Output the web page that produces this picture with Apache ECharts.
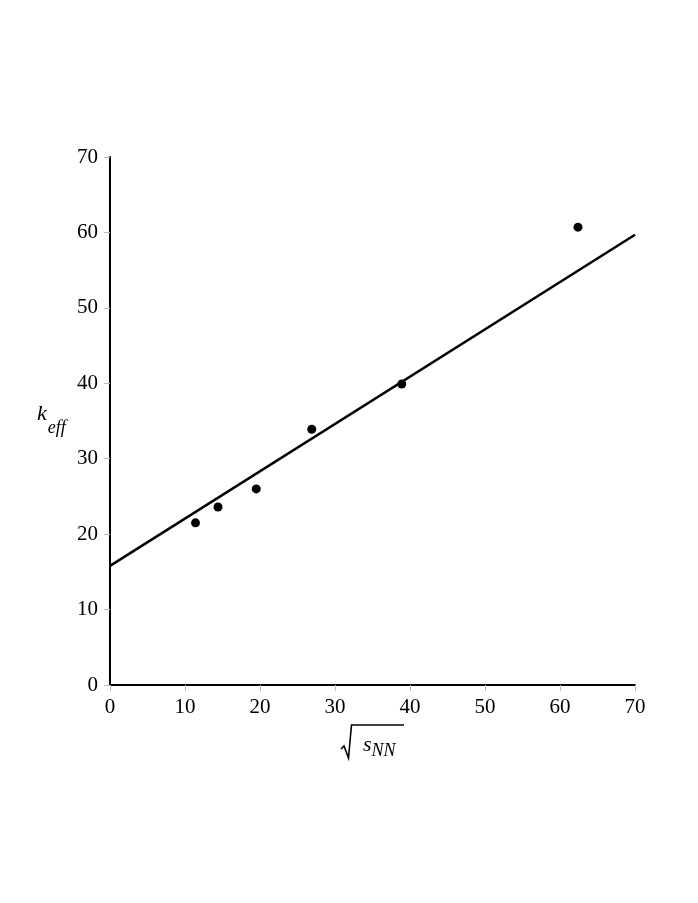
<!DOCTYPE html>
<html><head><meta charset="utf-8">
<script src="https://cdn.jsdelivr.net/npm/echarts@6/dist/echarts.min.js"></script>
<style>html,body{margin:0;padding:0;background:#fff}#c{width:698px;height:903px}</style>
</head><body><div id="c"></div>
<script>
const xTicks = [0,10,20,30,40,50,60,70];
const yTicks = [0,10,20,30,40,50,60,70];
const pointsX = [11.4, 14.4, 19.5, 26.9, 38.9, 62.4];
const pointsY = [21.5, 23.6, 26.0, 33.9, 39.9, 60.7];
const fitX = [0, 70];
const fitY = [15.8, 59.7];

const chart = echarts.init(document.getElementById('c'));
const font = '"Liberation Serif","Times New Roman",serif';
chart.setOption({
  animation:false,
  backgroundColor:'#fff',
  grid:{left:110,right:63,top:157,bottom:218},
  xAxis:{type:'value',min:0,max:70,interval:10,
    axisLine:{lineStyle:{color:'#000',width:2}},
    axisTick:{show:true,length:6,lineStyle:{color:'#bbb',width:1}},
    axisLabel:{color:'#000',fontFamily:font,fontSize:21,margin:12},
    splitLine:{show:false}},
  yAxis:{type:'value',min:0,max:70,interval:10,
    axisLine:{lineStyle:{color:'#000',width:2}},
    axisTick:{show:true,length:6,lineStyle:{color:'#bbb',width:1}},
    axisLabel:{color:'#000',fontFamily:font,fontSize:21,margin:12},
    splitLine:{show:false}},
  series:[
    {type:'line',data:fitX.map((x,i)=>[x,fitY[i]]),showSymbol:false,
     lineStyle:{color:'#000',width:2.5},z:2},
    {type:'scatter',data:pointsX.map((x,i)=>[x,pointsY[i]]),symbolSize:9,
     itemStyle:{color:'#000',opacity:1},z:3}
  ],
  graphic:[
    {type:'text',left:37,top:403,style:{text:'{k|k}{s|eff}',rich:{
      k:{fontFamily:font,fontStyle:'italic',fontSize:22,fill:'#000'},
      s:{fontFamily:font,fontStyle:'italic',fontSize:18,fill:'#000',padding:[28,0,0,1]}}}},
    {type:'polyline',shape:{points:[[341,749],[344,746],[348.5,758],[351.5,725],[404,725]]},
     style:{stroke:'#000',lineWidth:1.6,fill:null}},
    {type:'text',left:363,top:734,style:{text:'{k|s}{s|NN}',rich:{
      k:{fontFamily:font,fontStyle:'italic',fontSize:22,fill:'#000'},
      s:{fontFamily:font,fontStyle:'italic',fontSize:18,fill:'#000',padding:[12,0,0,0]}}}}
  ]
});
</script></body></html>
